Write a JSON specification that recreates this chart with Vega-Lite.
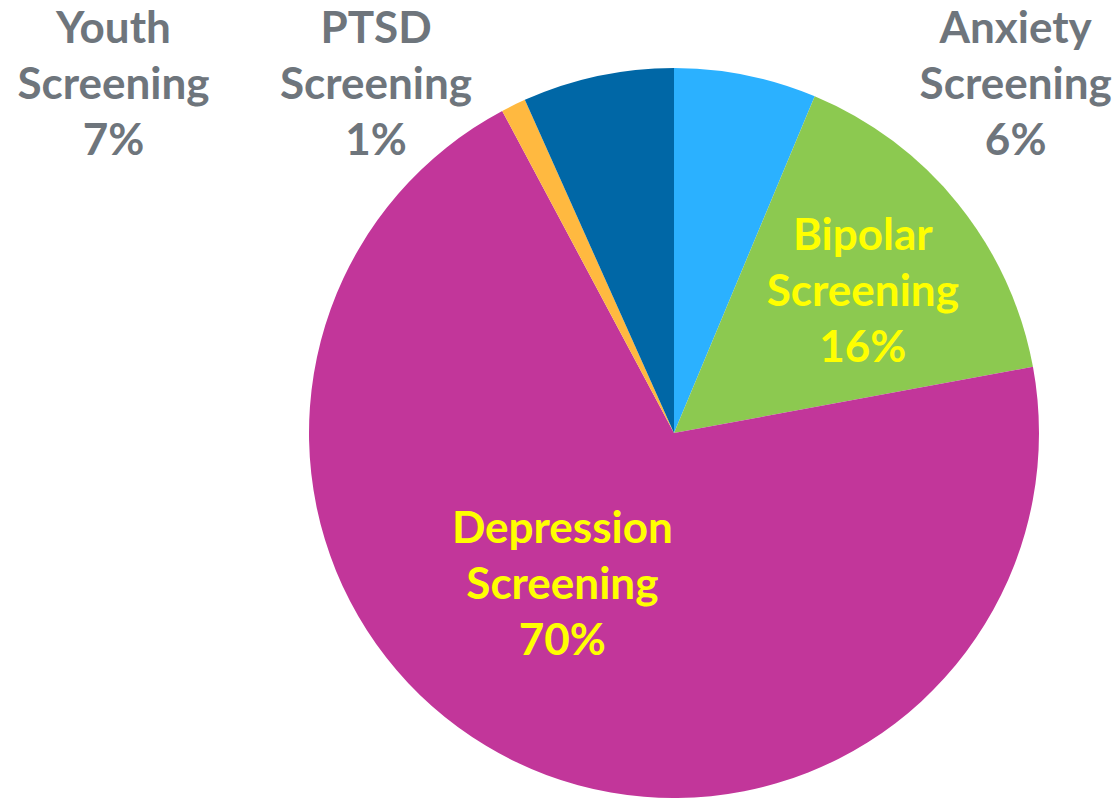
{
  "$schema": "https://vega.github.io/schema/vega-lite/v6.json",
  "width": 730,
  "height": 730,
  "autosize": {"type": "none"},
  "padding": {"left": 309, "top": 68, "right": 76, "bottom": 0},
  "background": "white",
  "config": {"view": {"stroke": null}},
  "data": {
    "values": [
      {"category": "Anxiety Screening", "value": 6.3},
      {"category": "Bipolar Screening", "value": 15.8},
      {"category": "Depression Screening", "value": 70.1},
      {"category": "PTSD Screening", "value": 1.1},
      {"category": "Youth Screening", "value": 6.7}
    ]
  },
  "transform": [
    {"calculate": "datum.category + ' ' + format(datum.value / 100, '.0%')", "as": "label"}
  ],
  "encoding": {
    "theta": {"field": "value", "type": "quantitative", "stack": true}
  },
  "layer": [
    {
      "mark": {"type": "arc", "stroke": null},
      "encoding": {
        "color": {
          "field": "category",
          "type": "nominal",
          "scale": {
            "domain": ["Anxiety Screening", "Bipolar Screening", "Depression Screening", "PTSD Screening", "Youth Screening"],
            "range": ["#2BB1FF", "#8CC950", "#C2369A", "#FFB940", "#0067A6"]
          },
          "legend": null
        }
      }
    },
    {
      "mark": {"type": "text", "radius": 400, "dx": 263, "dy": -11, "font": "Lato", "fontWeight": "bold", "fontSize": 44, "lineBreak": " ", "lineHeight": 56, "color": "#6E757C", "align": "center", "baseline": "middle"},
      "encoding": {
        "detail": {"field": "category", "type": "nominal"},
        "text": {"condition": {"test": "datum.category === 'Anxiety Screening'", "field": "label"}, "value": ""}
      }
    },
    {
      "mark": {"type": "text", "radius": 400, "dx": -477, "dy": -12, "font": "Lato", "fontWeight": "bold", "fontSize": 44, "lineBreak": " ", "lineHeight": 56, "color": "#6E757C", "align": "center", "baseline": "middle"},
      "encoding": {
        "detail": {"field": "category", "type": "nominal"},
        "text": {"condition": {"test": "datum.category === 'Youth Screening'", "field": "label"}, "value": ""}
      }
    },
    {
      "mark": {"type": "text", "radius": 400, "dx": -122, "dy": -44, "font": "Lato", "fontWeight": "bold", "fontSize": 44, "lineBreak": " ", "lineHeight": 56, "color": "#6E757C", "align": "center", "baseline": "middle"},
      "encoding": {
        "detail": {"field": "category", "type": "nominal"},
        "text": {"condition": {"test": "datum.category === 'PTSD Screening'", "field": "label"}, "value": ""}
      }
    },
    {
      "mark": {"type": "text", "radius": 240, "dx": 2, "dy": -45, "font": "Lato", "fontWeight": "bold", "fontSize": 44, "lineBreak": " ", "lineHeight": 56, "color": "#FFFF00", "align": "center", "baseline": "middle"},
      "encoding": {
        "detail": {"field": "category", "type": "nominal"},
        "text": {"condition": {"test": "datum.category === 'Bipolar Screening'", "field": "label"}, "value": ""}
      }
    },
    {
      "mark": {"type": "text", "radius": 188, "dx": -30, "dy": -72, "font": "Lato", "fontWeight": "bold", "fontSize": 44, "lineBreak": " ", "lineHeight": 56, "color": "#FFFF00", "align": "center", "baseline": "middle"},
      "encoding": {
        "detail": {"field": "category", "type": "nominal"},
        "text": {"condition": {"test": "datum.category === 'Depression Screening'", "field": "label"}, "value": ""}
      }
    }
  ]
}
